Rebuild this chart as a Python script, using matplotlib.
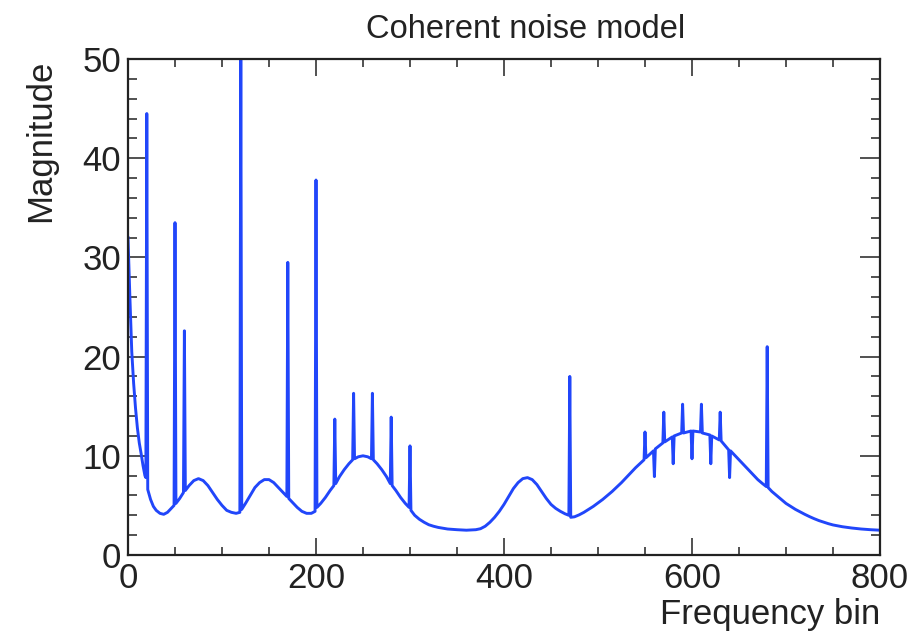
"""
Coherent noise model: magnitude spectrum versus frequency bin.
"""

import matplotlib
matplotlib.use('Agg')
import matplotlib.pyplot as plt
from matplotlib.ticker import MultipleLocator

plt.rcParams['font.family'] = ['Liberation Sans', 'DejaVu Sans']

# Spectrum: baseline points plus the narrow lines
freq_bin = [
    0, 2, 4, 6, 8, 10, 12, 14, 16, 18, 19, 20, 21, 24, 27, 30, 34, 38, 42, 46,
    49, 50, 51, 55, 59, 60, 61, 65, 70, 75, 80, 85, 90, 95, 100, 105, 110, 115,
    119, 120, 121, 125, 130, 135, 140, 145, 150, 155, 160, 165, 169, 170, 171,
    175, 180, 185, 190, 195, 199, 200, 201, 205, 210, 215, 219, 220, 221, 225,
    230, 235, 239, 240, 241, 245, 250, 255, 259, 260, 261, 265, 270, 275, 279,
    280, 281, 285, 290, 295, 299, 300, 301, 305, 310, 315, 320, 325, 330, 340,
    350, 360, 370, 375, 380, 385, 390, 395, 400, 405, 410, 415, 420, 425, 430,
    435, 440, 445, 450, 455, 460, 465, 469, 470, 471, 475, 480, 485, 490, 495,
    500, 505, 510, 515, 520, 525, 530, 535, 540, 545, 549, 550, 551, 559, 560,
    561, 569, 570, 571, 579, 580, 581, 589, 590, 591, 599, 600, 601, 609, 610,
    611, 619, 620, 621, 629, 630, 631, 639, 640, 641, 645, 650, 655, 660, 665,
    670, 675, 679, 680, 681, 685, 690, 695, 700, 705, 710, 715, 720, 725, 730,
    735, 740, 745, 750, 760, 770, 780, 790, 800,
]
magnitude = [
    32.0, 26.0, 20.5, 17.3, 14.8, 12.8, 11.3, 10.2, 9.0, 8.0, 7.8, 44.5, 6.6,
    5.6, 4.9, 4.5, 4.2, 4.1, 4.3, 4.7,
    5.0, 33.5, 5.2, 5.7, 6.3, 22.6, 6.5, 7.0, 7.5, 7.7, 7.5, 7.0, 6.3, 5.6, 5.0,
    4.5, 4.3, 4.2,
    4.3, 52.0, 4.6, 5.2, 6.0, 6.8, 7.3, 7.6, 7.6, 7.3, 6.8, 6.3, 5.9, 29.5, 5.7,
    5.3, 4.8, 4.4, 4.2, 4.2, 4.4, 37.8, 4.8, 5.2, 5.8, 6.5, 7.0, 13.7, 7.2, 7.9,
    8.6, 9.2, 9.6, 16.3, 9.7, 9.9, 10.0, 9.9, 9.7, 16.3, 9.6, 9.2, 8.6, 7.9, 7.2,
    13.9, 7.0, 6.5, 5.8, 5.2, 4.8, 11.0, 4.5, 4.0, 3.6, 3.3, 3.05, 2.9, 2.78, 2.62,
    2.55, 2.5, 2.55, 2.65, 2.9, 3.3, 3.8, 4.4, 5.1, 5.9, 6.7, 7.3, 7.7, 7.8, 7.6,
    7.1, 6.4, 5.7, 5.1, 4.7, 4.4, 4.15, 4.0, 18.0, 3.8, 3.85, 4.05, 4.3, 4.6, 4.9,
    5.25, 5.6, 6.0, 6.4, 6.85, 7.3, 7.8, 8.3, 8.8, 9.25, 9.6, 12.4, 9.8, 10.5, 7.9,
    10.7, 11.3, 14.4, 11.4, 11.9, 9.2, 12.0, 12.3, 15.2, 12.3, 12.5, 9.7, 12.5,
    12.4, 15.2,
    12.3, 12.1, 9.2, 12.0, 11.6, 14.4, 11.5, 10.6, 7.8, 10.5, 10.1, 9.6, 9.1, 8.6,
    8.1,
    7.6, 7.2, 6.9, 21.0, 6.8, 6.4, 6.0, 5.6, 5.2, 4.9, 4.6, 4.35, 4.1, 3.87, 3.66,
    3.47, 3.31, 3.16, 3.03, 2.85, 2.72, 2.62, 2.55, 2.5,
]
assert len(freq_bin) == len(magnitude)

W, H, DPI = 914, 631, 100
LINE_COLOR = '#2146fa'
INK = '#222222'

fig = plt.figure(figsize=(W / DPI, H / DPI), dpi=DPI)
ax = fig.add_axes([128 / W, 1 - 555 / H, (880 - 128) / W, (555 - 59) / H])

ax.plot(freq_bin, magnitude, color=LINE_COLOR, lw=2.1)

ax.set_xlim(0, 800)
ax.set_ylim(0, 50)

# ROOT-like frame: inward ticks on all four sides
ax.xaxis.set_major_locator(MultipleLocator(200))
ax.xaxis.set_minor_locator(MultipleLocator(50))
ax.yaxis.set_major_locator(MultipleLocator(10))
ax.yaxis.set_minor_locator(MultipleLocator(2))
ax.tick_params(which='both', direction='in', top=True, right=True,
               width=1.1, colors=INK, labelsize=25)
ax.tick_params(axis='x', which='major', length=12.5, pad=5)
ax.tick_params(axis='x', which='minor', length=6)
ax.tick_params(axis='y', which='major', length=14.5, pad=5)
ax.tick_params(axis='y', which='minor', length=6.5)
for side in ax.spines.values():
    side.set_linewidth(1.6)
    side.set_color(INK)

fig.text(526 / W, 1 - 38 / H, 'Coherent noise model', ha='center',
         va='baseline', fontsize=23.5, color=INK)
fig.text(880 / W, 1 - 624 / H, 'Frequency bin', ha='right', va='baseline',
         fontsize=25, color=INK)
fig.text(41 / W, 1 - 60 / H, 'Magnitude', ha='center', va='top',
         rotation=90, fontsize=25, color=INK)

fig.savefig('out.png', dpi=DPI)
